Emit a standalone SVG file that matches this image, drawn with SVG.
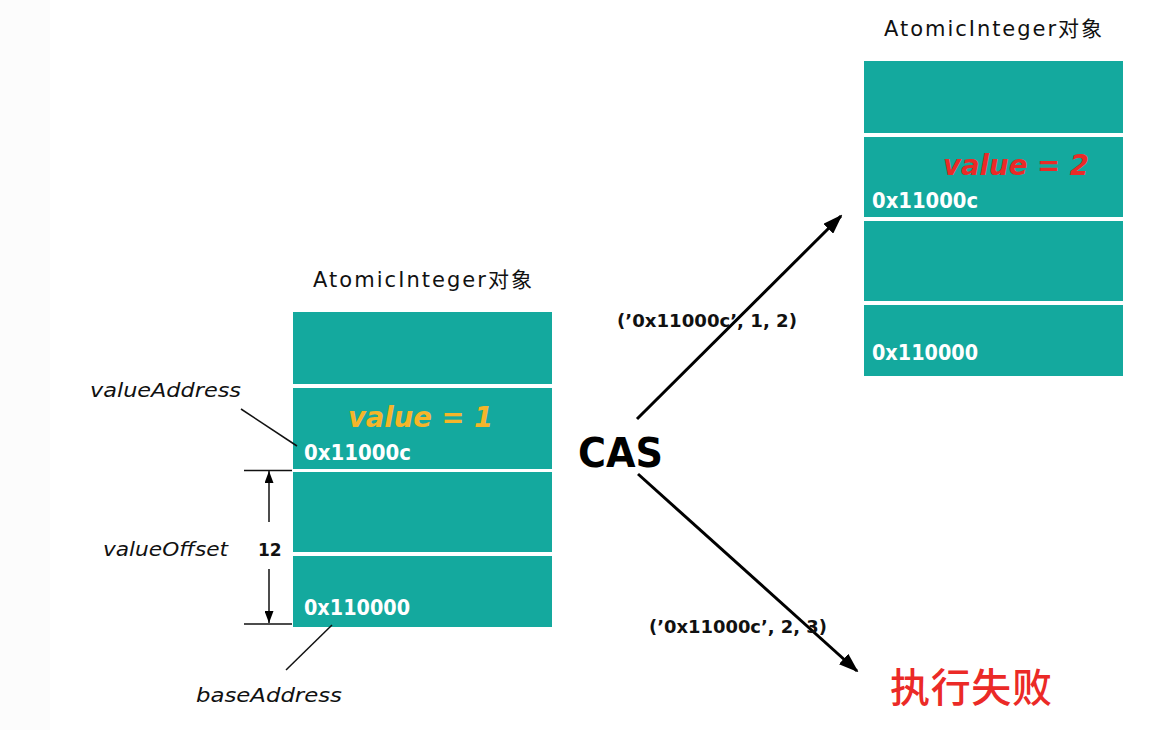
<svg xmlns="http://www.w3.org/2000/svg" width="1155" height="730" viewBox="0 0 1155 730">
<style>
.cell{fill:#14a99e}
.title{font-family:"DejaVu Sans","Noto Sans CJK SC",sans-serif;font-size:21px;fill:#111}
.addr{font-family:"DejaVu Sans",sans-serif;font-size:21px;font-weight:bold;fill:#fff}
.val{font-family:"DejaVu Sans",sans-serif;font-size:29px;font-weight:bold;font-style:italic}
.lab{font-family:"DejaVu Sans",sans-serif;font-size:20px;font-style:italic;fill:#111}
.args{font-family:"DejaVu Sans",sans-serif;font-size:17px;font-weight:bold;fill:#111}
.thin{stroke:#111;stroke-width:1.5;fill:none}
.arrow{stroke:#000;stroke-width:3;fill:none}
</style>
<defs>
<marker id="big" viewBox="0 0 20 14" refX="18" refY="7" markerWidth="20" markerHeight="14" markerUnits="userSpaceOnUse" orient="auto">
<path d="M0,0 L20,7 L0,14 Z" fill="#000"/>
</marker>
<marker id="small" viewBox="0 0 12 9" refX="12" refY="4.5" markerWidth="12" markerHeight="9" markerUnits="userSpaceOnUse" orient="auto">
<path d="M0,0 L12,4.5 L0,9 Z" fill="#000"/>
</marker>
</defs>
<rect x="0" y="0" width="1155" height="730" fill="#fff"/>
<rect x="0" y="0" width="50" height="730" fill="#fcfcfc"/>

<g id="left-object">
<text class="title" x="313" y="287" textLength="219" lengthAdjust="spacing">AtomicInteger对象</text>
<rect class="cell" x="293" y="312" width="259" height="72"/>
<rect class="cell" x="293" y="388" width="259" height="81"/>
<rect class="cell" x="293" y="472" width="259" height="80"/>
<rect class="cell" x="293" y="556" width="259" height="71"/>
<text class="val" x="348" y="427" fill="#f5b52a" textLength="145" lengthAdjust="spacingAndGlyphs">value = 1</text>
<text class="addr" x="304" y="460" textLength="107" lengthAdjust="spacingAndGlyphs">0x11000c</text>
<text class="addr" x="304" y="615" textLength="106" lengthAdjust="spacingAndGlyphs">0x110000</text>
</g>

<g id="right-object">
<text class="title" x="884" y="36" textLength="218" lengthAdjust="spacing">AtomicInteger对象</text>
<rect class="cell" x="864" y="61" width="259" height="72"/>
<rect class="cell" x="864" y="137" width="259" height="80"/>
<rect class="cell" x="864" y="221" width="259" height="80"/>
<rect class="cell" x="864" y="305" width="259" height="71"/>
<text class="val" x="943" y="175" fill="#eb2a27" textLength="146" lengthAdjust="spacingAndGlyphs">value = 2</text>
<text class="addr" x="872" y="208" textLength="106" lengthAdjust="spacingAndGlyphs">0x11000c</text>
<text class="addr" x="872" y="360" textLength="106" lengthAdjust="spacingAndGlyphs">0x110000</text>
</g>

<g id="labels">
<text class="lab" x="90" y="397" textLength="151" lengthAdjust="spacingAndGlyphs">valueAddress</text>
<text class="lab" x="103" y="556" textLength="125" lengthAdjust="spacingAndGlyphs">valueOffset</text>
<text class="args" x="258" y="556" font-size="17">12</text>
<text class="lab" x="196" y="702" textLength="146" lengthAdjust="spacingAndGlyphs">baseAddress</text>
</g>

<g id="cas">
<text x="578" y="467" font-family="DejaVu Sans, sans-serif" font-size="40" font-weight="bold" fill="#000" textLength="85" lengthAdjust="spacingAndGlyphs">CAS</text>
</g>

<g id="fail">
<text x="890" y="702" font-family="Noto Sans CJK SC, sans-serif" font-size="40" font-weight="500" fill="#eb2a27" textLength="162" lengthAdjust="spacing">执行失败</text>
</g>

<g id="connectors">
<line class="thin" x1="241" y1="409" x2="297" y2="446"/>
<line class="thin" x1="332" y1="625" x2="286" y2="670"/>
<line class="thin" x1="244" y1="470.5" x2="292" y2="470.5"/>
<line class="thin" x1="244" y1="624" x2="292" y2="624"/>
<line class="thin" x1="269" y1="522" x2="269" y2="471" marker-end="url(#small)"/>
<line class="thin" x1="269" y1="569" x2="269" y2="623" marker-end="url(#small)"/>
<line class="arrow" x1="637" y1="419" x2="841" y2="216" marker-end="url(#big)"/>
<line class="arrow" x1="638" y1="474" x2="857" y2="671" marker-end="url(#big)"/>
<text class="args" x="617" y="327" textLength="180" lengthAdjust="spacingAndGlyphs">(’0x11000c’, 1, 2)</text>
<text class="args" x="649" y="633" textLength="178" lengthAdjust="spacingAndGlyphs">(’0x11000c’, 2, 3)</text>
</g>
</svg>
